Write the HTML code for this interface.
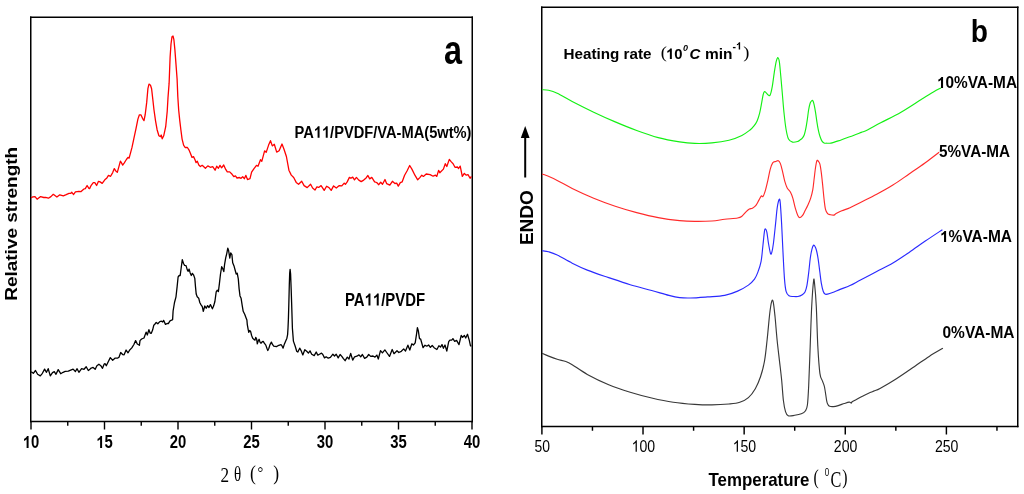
<!DOCTYPE html><html><head><meta charset="utf-8"><style>html,body{margin:0;padding:0;background:#fff;width:1024px;height:494px;overflow:hidden}svg{display:block;will-change:transform}</style></head><body>
<svg width="1024" height="494" viewBox="0 0 1024 494" font-family="Liberation Sans, sans-serif">
<path d="M30.75 16.5 V422.18" stroke="#000" stroke-width="1.5"/><path d="M472.25 16.5 V422.18" stroke="#000" stroke-width="1.5"/><path d="M30 17.25 H473" stroke="#000" stroke-width="1.5"/><path d="M30 421.5 H473" stroke="#000" stroke-width="1.35"/>
<path d="M31 421.5 V429.6 M104.5 421.5 V429.6 M178 421.5 V429.6 M251.5 421.5 V429.6 M325 421.5 V429.6 M398.5 421.5 V429.6 M472 421.5 V429.6 M67.75 421.5 V425.7 M141.25 421.5 V425.7 M214.75 421.5 V425.7 M288.25 421.5 V425.7 M361.75 421.5 V425.7 M435.25 421.5 V425.7" stroke="#000" stroke-width="1.4" fill="none"/>
<path d="M31.1 198 L32.8 196.8 L35 196.6 L37.1 199.2 L40.6 196.6 L43.8 197.5 L45.6 197.3 L48.4 198.2 L50.9 196.6 L53.3 194.3 L56.9 197 L59.8 194.8 L63.3 195.9 L66.2 194.7 L69 193.4 L70.8 193.3 L71.8 192.3 L73.6 194.5 L75.4 191.8 L78.9 191.3 L81.1 191.6 L83.9 189 L85.3 188.6 L87.1 185.5 L88.9 188.3 L89.6 188.6 L91.2 185.3 L93.3 182.6 L94.8 182.6 L96.6 185.5 L98.5 181.3 L100.1 181.9 L102.2 183.4 L104.8 179.8 L106.9 177.9 L108.5 175.3 L110.6 176.3 L112.7 172.6 L114.3 168.6 L115.6 170.7 L117.3 172.4 L118.7 167.4 L120.4 161.1 L121.5 162.9 L122.7 165.1 L124.3 162.9 L126.4 159.5 L128 157.4 L129.1 158.1 L130.6 152.6 L132 147.4 L133.8 138.8 L136.1 128.2 L137.9 119.1 L139.4 114.8 L140.9 114.8 L142.5 118.3 L144 120.6 L145.2 114.5 L146.7 102.4 L147.9 88.7 L149 84.1 L150.5 85.3 L151.6 88.7 L152.8 99.3 L154 110 L155.5 120.6 L157.1 129.7 L158.9 135.8 L160.4 136.6 L161.2 135 L162.2 138.8 L163.7 135.8 L165.7 126.7 L167.2 111.5 L168 97.8 L169.1 83.4 L170.1 57.2 L171 44 L172 36.7 L173 36 L173.9 39.7 L174.9 49.9 L176 64.4 L177.1 79 L177.8 96.5 L178.7 110.2 L179.8 120.9 L180.9 130 L182.1 139.1 L183.6 145.2 L185.1 147.5 L187.4 147.5 L188.9 149.8 L190.5 153.6 L192 157.4 L193.5 156.6 L195 159.7 L196.1 162.7 L197.3 161.2 L198.8 165 L200.4 166.5 L202.2 165.3 L205.4 168.3 L207.8 165.9 L210.3 167.3 L212.7 166.7 L215.1 170.2 L216.7 166.2 L218.4 168.3 L220 165.4 L221.6 167.8 L223.7 165 L225.7 169.4 L227.3 171.9 L229.7 171.9 L232.1 174.3 L233.8 176.7 L235.4 175.9 L237 178 L239.4 177.5 L241 178.3 L242.7 176.7 L244.3 178.7 L245.9 175.4 L247.5 179.6 L250 178.7 L251.6 172.2 L254 168.6 L256.5 165.4 L258 166.2 L260.5 159.7 L261.8 161.3 L264.6 150.8 L266.2 152.4 L268.6 145.1 L270.5 140.7 L272.3 145.9 L274.3 144.3 L276.7 152.1 L279.1 150.8 L282 144 L284 149.2 L286.4 156.5 L288.9 170.2 L291.3 175.1 L293.7 177.5 L296.2 182.4 L298.6 184.3 L301.7 181.3 L304.1 185.6 L307.2 187.6 L310.6 184.3 L312.6 188 L315 190 L316.9 186.8 L318.7 187.4 L321.1 185.6 L324.2 190.4 L326.6 186.2 L329 187.6 L331.2 190.4 L333.6 185.9 L336.3 188 L339.3 185.6 L341.8 185.9 L344.2 183.1 L345.4 184.3 L347.2 181.9 L349.4 177.4 L350.9 178.3 L352.7 177.1 L354.5 179.9 L356.4 177.4 L358.8 180.1 L361.2 181.6 L363.7 180.1 L366.1 177.9 L367.9 175.5 L369.7 178.9 L371.8 177.4 L374.6 181.9 L376.7 182.5 L378.6 184.7 L380.7 182.3 L382.5 184.3 L385 179.5 L386.7 183.7 L389.8 185.2 L392.4 181.3 L394.9 183.5 L396.7 183.1 L398.3 186.1 L400.3 182.7 L402.1 181.9 L404.6 175.2 L407 171 L409.7 165.5 L411.9 169.1 L414.9 175.2 L417.7 179.8 L419.8 177.6 L421.8 175.2 L423.4 176.4 L426.2 174 L430.1 174.6 L433.1 176.2 L435.5 175.2 L436.8 176.4 L438.6 170.4 L439.8 172.8 L443.4 169.1 L445.3 163.7 L446.8 166.5 L449.3 159.4 L451.3 161.9 L453.1 163.7 L455 167.3 L457.4 167 L458.6 168.5 L460.2 166.1 L462.3 176.4 L464.3 173.4 L466.3 175.2 L468 174.6 L470.1 178.3 L471.4 176.4" stroke="#ff0000" stroke-width="1.3" fill="none" stroke-linejoin="round"/>
<path d="M31.2 371.7 L33.3 373.3 L35.5 370.5 L37.6 374.3 L40.3 375.9 L42.4 373.3 L44.6 369.1 L46.5 372.3 L48.2 368.7 L50.3 375.9 L52.5 372.6 L54.3 371.7 L56 374.3 L58.2 369.6 L60.7 373.7 L63.1 372.3 L65.2 371.4 L68.3 371.1 L70.1 370.3 L73.1 369.1 L75.4 371.5 L77.1 368.7 L78.9 372.3 L81.6 368.7 L84 369.3 L86.2 366.8 L88.3 370.5 L90 369.2 L90.6 368.3 L93.1 367.4 L95.2 369.3 L96.9 365.7 L98.9 364.2 L100.8 365.7 L102.5 368.3 L104.2 364 L105 363.6 L106.3 365.7 L108 362.3 L110.3 357.6 L112.7 360.2 L115.2 358.1 L117.8 358.1 L119 357.2 L120.7 352.5 L122.9 354.7 L124.1 354.8 L126.1 350 L128 352.8 L129.7 350 L131.8 347.9 L133.9 344.5 L135.6 340.6 L137.3 344 L139.4 345.3 L140 340.6 L141.6 339 L144 338 L146.1 332.1 L147.3 335 L148.9 329.7 L150.1 333 L151.3 333.3 L152.6 330.1 L153.8 325.2 L155 324 L156.2 322.4 L157.8 323.8 L159.8 321.6 L161.5 321.2 L162.7 322 L163.6 320.4 L165.5 324.4 L167.1 323.5 L168.3 323.6 L170 320.8 L171.6 320.2 L172.6 319.6 L173.1 311 L174.5 302.5 L176 296.8 L177.1 286.9 L178.1 277 L179.2 275.5 L180.2 275.5 L181.3 267 L182.3 259.6 L183.5 263.5 L184.6 265.3 L186 265.6 L187.3 269.9 L188.2 271.3 L189.1 269.1 L190.1 272.7 L191.3 275.5 L192.4 273.4 L193.5 274.8 L194.8 278.4 L195.5 286.9 L196.2 294 L197.2 296.8 L198.7 298.2 L199.8 302.5 L200.9 304.6 L202.3 306.7 L203.3 311.3 L204.8 306 L206.2 308.2 L207.6 305.6 L209 307.5 L210.4 304.6 L211.3 306.4 L212.4 308.8 L213.6 306.1 L214.9 301.5 L216.2 291.8 L217.3 290.2 L218.4 291.5 L219.4 283.7 L220.5 274 L221.7 266.7 L222.6 268.3 L223.8 271.6 L224.6 264.3 L225.7 257.8 L226.7 253.8 L227.8 248.1 L228.6 250.5 L229.8 258.1 L230.7 253 L231.9 254.6 L232.7 262.7 L234 265.9 L235.1 270 L236.2 274 L237.2 273.2 L238.3 278.9 L239.1 288.6 L240 295.9 L241.1 298.3 L242.1 304.8 L243.2 311.3 L244.8 314.5 L246 317.7 L246.9 320 L247.3 324.6 L248.2 329.6 L248.8 332.3 L249.7 330.5 L250.6 331.4 L251.6 335.5 L252.7 338.2 L254.1 339.6 L255 340.1 L255.7 337.3 L256.7 339.3 L257.3 343.9 L258.2 341 L259.1 339.3 L260 342.1 L260.9 343.2 L262.3 341.7 L263.2 341.4 L264.3 343.2 L265.8 345.1 L266.9 348.3 L267.8 350.5 L268.9 348.3 L270 344.6 L271.4 342.1 L272.3 344.2 L273.7 346.2 L275.1 346.4 L276.4 346.6 L278 345.7 L279.6 345.1 L281 344.6 L281.9 345.7 L283.1 348.1 L284.2 344.6 L285.5 341.4 L286.9 338.2 L287.6 334.6 L288 328.2 L288.4 319.1 L288.8 305 L289.3 285 L289.7 273 L290.1 269.3 L290.6 274 L291.2 290 L291.6 302 L292.4 328.2 L293.4 341.1 L295.2 346.2 L296.7 351.2 L297.8 352 L299.7 348.2 L301.1 350.6 L302.8 354.9 L304.8 349.7 L306.7 351.2 L308.4 353.1 L310 350.9 L311.7 354.2 L314.2 355.6 L316.2 352 L317.8 355.1 L319.5 354.2 L321.5 353.1 L322.8 354.5 L324.5 357.9 L326.2 356.8 L328.2 358.2 L330.4 357.3 L332.9 354.2 L334.5 356 L336.2 354.2 L338.2 357.9 L340.1 354.5 L341.8 356.4 L343.4 358.7 L345.1 360.7 L347.3 357.1 L349 359 L350.7 353.4 L352.7 360.1 L354.6 356.8 L356.8 356.2 L359 354.9 L360.7 356.8 L362.4 354.5 L364.6 358.4 L366.8 357.1 L368.7 354.5 L370.7 356.4 L373 356 L375 357.1 L376.8 355.1 L378.3 359 L380.5 350.6 L382.4 352.9 L384.9 349.9 L386.7 352.5 L389.5 356.4 L392.2 349.5 L394 353.7 L397 350.7 L398.8 352.5 L401.3 351.3 L403.7 348.9 L405.5 351.1 L407.9 345.2 L409.8 350.1 L411.8 343.8 L413.4 345 L415.2 342.8 L416.5 334.3 L417.4 327.6 L418.3 330.7 L419.5 338.6 L420.7 339.2 L423.1 347.7 L425 345.2 L426.8 346.2 L428.6 345 L430.4 347.4 L432.2 345.5 L434.1 347.7 L436.9 349.5 L438.9 345.8 L440.5 347.1 L442 344.6 L443.4 348.3 L445 345 L446.8 351.1 L448.7 341.6 L449.9 340.1 L451.7 340.1 L452.9 338.6 L454.7 341.3 L456.6 340.4 L459 344.6 L461.2 335.5 L462.6 337.3 L464.4 335.5 L465.7 338 L467.5 334.3 L469.3 340.4 L470.5 345.8 L471.4 345.8" stroke="#000" stroke-width="1.3" fill="none" stroke-linejoin="round"/>
<path d="M541.75 6.5 V427.18" stroke="#000" stroke-width="1.5"/><path d="M1017.75 6.5 V427.18" stroke="#000" stroke-width="1.5"/><path d="M541 7.25 H1018.5" stroke="#000" stroke-width="1.5"/><path d="M541 426.5 H1018.5" stroke="#000" stroke-width="1.35"/>
<path d="M541.9 426.5 V434.6 M643.02 426.5 V434.6 M744.15 426.5 V434.6 M845.27 426.5 V434.6 M946.4 426.5 V434.6 M592.46 426.5 V430.8 M693.59 426.5 V430.8 M794.71 426.5 V430.8 M895.84 426.5 V430.8 M996.96 426.5 V430.8" stroke="#000" stroke-width="1.45" fill="none"/>
<path d="M542.1 89.7 C543.18 89.8 546.08 89.7 548.6 90.3 C551.12 90.9 553.27 91.43 557.2 93.3 C561.13 95.17 566.12 98.35 572.2 101.5 C578.28 104.65 586.53 108.8 593.7 112.2 C600.87 115.6 608.03 118.85 615.2 121.9 C622.37 124.95 629.53 127.88 636.7 130.5 C643.87 133.12 651.05 135.7 658.2 137.6 C665.35 139.5 673.52 140.93 679.6 141.9 C685.68 142.87 689.32 143.23 694.7 143.4 C700.08 143.57 706.18 143.43 711.9 142.9 C717.62 142.37 724 141.45 729 140.2 C734 138.95 738.4 137.1 741.9 135.4 C745.4 133.7 747.98 131.58 750 130 C752.02 128.42 752.82 127.42 754 125.9 C755.18 124.38 756.15 123.08 757.1 120.9 C758.05 118.72 758.93 115.85 759.7 112.8 C760.47 109.75 761.12 105.65 761.7 102.6 C762.28 99.55 762.72 96.35 763.2 94.5 C763.68 92.65 764.1 91.77 764.6 91.5 C765.1 91.23 765.6 92.33 766.2 92.9 C766.8 93.47 767.53 94.57 768.2 94.9 C768.87 95.23 769.52 96.32 770.2 94.9 C770.88 93.48 771.62 90.17 772.3 86.4 C772.98 82.63 773.63 76.52 774.3 72.3 C774.97 68.08 775.68 63.53 776.3 61.1 C776.92 58.67 777.48 57.53 778 57.7 C778.52 57.87 778.93 59 779.4 62.1 C779.87 65.2 780.3 70.9 780.8 76.3 C781.3 81.7 781.87 88.42 782.4 94.5 C782.93 100.58 783.4 107.05 784 112.8 C784.6 118.55 785.25 124.62 786 129 C786.75 133.38 787.42 136.92 788.5 139.1 C789.58 141.28 790.98 141.7 792.5 142.1 C794.02 142.5 796.35 141.85 797.6 141.5 C798.85 141.15 799.25 140.52 800 140 C800.75 139.48 801.38 139.28 802.1 138.4 C802.82 137.52 803.67 136.4 804.3 134.7 C804.93 133 805.4 130.7 805.9 128.2 C806.4 125.7 806.85 122.73 807.3 119.7 C807.75 116.67 808.12 112.78 808.6 110 C809.08 107.22 809.67 104.57 810.2 103 C810.73 101.43 811.35 100.95 811.8 100.6 C812.25 100.25 812.52 100.23 812.9 100.9 C813.28 101.57 813.67 102.73 814.1 104.6 C814.53 106.47 815.03 109.23 815.5 112.1 C815.97 114.97 816.42 118.75 816.9 121.8 C817.38 124.85 817.87 127.9 818.4 130.4 C818.93 132.9 819.5 135.02 820.1 136.8 C820.7 138.58 821.33 140.07 822 141.1 C822.67 142.13 823.3 142.65 824.1 143 C824.9 143.35 825.67 143.18 826.8 143.2 C827.93 143.22 829 143.48 830.9 143.1 C832.8 142.72 835.77 141.72 838.2 140.9 C840.63 140.08 842.97 139.1 845.5 138.2 C848.03 137.3 850.77 136.47 853.4 135.5 C856.03 134.53 858.97 133.32 861.3 132.4 C863.63 131.48 864.17 131.6 867.4 130 C870.63 128.4 875.1 125.77 880.7 122.8 C886.3 119.83 894.25 116.08 901 112.2 C907.75 108.32 915.8 102.87 921.2 99.5 C926.6 96.13 930.1 93.93 933.4 92 C936.7 90.07 939.73 88.58 941 87.9" stroke="#14f014" stroke-width="1.15" fill="none" stroke-linejoin="round"/>
<path d="M542.1 174 C542.82 174.25 543.88 174.43 546.4 175.5 C548.92 176.57 552.9 178.25 557.2 180.4 C561.5 182.55 566.12 185.43 572.2 188.4 C578.28 191.37 586.53 195.23 593.7 198.2 C600.87 201.17 608.03 203.8 615.2 206.2 C622.37 208.6 629.53 210.7 636.7 212.6 C643.87 214.5 651.05 216.27 658.2 217.6 C665.35 218.93 673.52 219.97 679.6 220.6 C685.68 221.23 689.32 221.33 694.7 221.4 C700.08 221.47 706.9 221.35 711.9 221 C716.9 220.65 720.42 219.8 724.7 219.3 C728.98 218.8 734.73 218.5 737.6 218 C740.47 217.5 740.47 217.37 741.9 216.3 C743.33 215.23 744.95 212.82 746.2 211.6 C747.45 210.38 748.37 209.57 749.4 209 C750.43 208.43 751.35 208.75 752.4 208.2 C753.45 207.65 754.62 207.05 755.7 205.7 C756.78 204.35 757.97 201.72 758.9 200.1 C759.83 198.48 760.62 196.6 761.3 196 C761.98 195.4 762.32 197.45 763 196.5 C763.68 195.55 764.6 192.95 765.4 190.3 C766.2 187.65 767 184.1 767.8 180.6 C768.6 177.1 769.38 172.27 770.2 169.3 C771.02 166.33 771.75 164.1 772.7 162.8 C773.65 161.5 774.97 161.85 775.9 161.5 C776.83 161.15 777.55 160.35 778.3 160.7 C779.05 161.05 779.72 161.9 780.4 163.6 C781.08 165.3 781.67 167.93 782.4 170.9 C783.13 173.87 784 178.57 784.8 181.4 C785.6 184.23 786.25 186.08 787.2 187.9 C788.15 189.72 789.55 190.55 790.5 192.3 C791.45 194.05 792.1 195.75 792.9 198.4 C793.7 201.05 794.48 205.37 795.3 208.2 C796.12 211.03 797.03 213.83 797.8 215.4 C798.57 216.97 799.1 217.6 799.9 217.6 C800.7 217.6 801.75 216.53 802.6 215.4 C803.45 214.27 804.13 212.5 805 210.8 C805.87 209.1 806.85 207.32 807.8 205.2 C808.75 203.08 809.87 200.7 810.7 198.1 C811.53 195.5 812.22 192.9 812.8 189.6 C813.38 186.3 813.73 182.07 814.2 178.3 C814.67 174.53 815.13 169.95 815.6 167 C816.07 164.05 816.53 161.55 817 160.6 C817.47 159.65 817.92 160.72 818.4 161.3 C818.88 161.88 819.42 162.22 819.9 164.1 C820.38 165.98 820.83 169.05 821.3 172.6 C821.77 176.15 822.23 180.92 822.7 185.4 C823.17 189.88 823.63 195.5 824.1 199.5 C824.57 203.5 824.92 207.05 825.5 209.4 C826.08 211.75 826.77 212.7 827.6 213.6 C828.43 214.5 829.43 214.55 830.5 214.8 C831.57 215.05 833.07 215.3 834 215.1 C834.93 214.9 834.8 214.32 836.1 213.6 C837.4 212.88 839.48 211.78 841.8 210.8 C844.12 209.82 846.88 209.1 850 207.7 C853.12 206.3 856.05 204.63 860.5 202.4 C864.95 200.17 871.3 197.18 876.7 194.3 C882.1 191.42 887.5 188.48 892.9 185.1 C898.3 181.72 903.7 177.73 909.1 174 C914.5 170.27 920.3 166.33 925.3 162.7 C930.3 159.07 936.8 153.95 939.1 152.2" stroke="#ff2a2a" stroke-width="1.15" fill="none" stroke-linejoin="round"/>
<path d="M542.1 250.7 C543.18 250.88 546.08 251.08 548.6 251.8 C551.12 252.52 553.27 253.1 557.2 255 C561.13 256.9 567.18 260.68 572.2 263.2 C577.22 265.72 581.22 267.7 587.3 270.1 C593.38 272.5 601.55 275.17 608.7 277.6 C615.85 280.03 623.03 282.55 630.2 284.7 C637.37 286.85 645.25 288.72 651.7 290.5 C658.15 292.28 664.25 294.22 668.9 295.4 C673.55 296.58 676.02 297.17 679.6 297.6 C683.18 298.03 685.73 298.12 690.4 298 C695.07 297.88 701.88 297.33 707.6 296.9 C713.32 296.47 719.7 296.37 724.7 295.4 C729.7 294.43 733.65 292.82 737.6 291.1 C741.55 289.38 745.58 287.1 748.4 285.1 C751.22 283.1 752.93 281.22 754.5 279.1 C756.07 276.98 756.7 275.37 757.8 272.4 C758.9 269.43 760.25 265.75 761.1 261.3 C761.95 256.85 762.33 250.72 762.9 245.7 C763.47 240.68 764.05 233.98 764.5 231.2 C764.95 228.42 765.2 228.82 765.6 229 C766 229.18 766.42 229.88 766.9 232.3 C767.38 234.72 767.9 239.97 768.5 243.5 C769.1 247.03 769.95 252.02 770.5 253.5 C771.05 254.98 771.32 254.07 771.8 252.4 C772.28 250.73 772.77 248.33 773.4 243.5 C774.03 238.67 774.97 229.35 775.6 223.4 C776.23 217.45 776.6 211.8 777.2 207.8 C777.8 203.8 778.68 200.13 779.2 199.4 C779.72 198.67 779.9 199.4 780.3 203.4 C780.7 207.4 781.15 215.23 781.6 223.4 C782.05 231.57 782.52 243.12 783 252.4 C783.48 261.68 783.98 272.62 784.5 279.1 C785.02 285.58 785.35 288.52 786.1 291.3 C786.85 294.08 787.78 294.93 789 295.8 C790.22 296.67 791.92 296.38 793.4 296.5 C794.88 296.62 796.42 296.8 797.9 296.5 C799.38 296.2 801.12 295.47 802.3 294.7 C803.48 293.93 804.23 293.42 805 291.9 C805.77 290.38 806.27 288.95 806.9 285.6 C807.53 282.25 808.23 276.4 808.8 271.8 C809.37 267.2 809.78 261.75 810.3 258 C810.82 254.25 811.37 251.42 811.9 249.3 C812.43 247.18 812.98 245.77 813.5 245.3 C814.02 244.83 814.5 245.63 815 246.5 C815.5 247.37 815.97 248.37 816.5 250.5 C817.03 252.63 817.65 255.75 818.2 259.3 C818.75 262.85 819.28 267.83 819.8 271.8 C820.32 275.77 820.73 279.85 821.3 283.1 C821.87 286.35 822.58 289.47 823.2 291.3 C823.82 293.13 824.27 293.63 825 294.1 C825.73 294.57 826.33 294.37 827.6 294.1 C828.87 293.83 830.52 293.28 832.6 292.5 C834.68 291.72 837.2 290.55 840.1 289.4 C843 288.25 846.6 287.17 850 285.6 C853.4 284.03 856.05 282.35 860.5 280 C864.95 277.65 871.3 274.33 876.7 271.5 C882.1 268.67 887.5 266.18 892.9 263 C898.3 259.82 903.7 256.05 909.1 252.4 C914.5 248.75 919.75 244.88 925.3 241.1 C930.85 237.32 939.55 231.6 942.4 229.7" stroke="#2a2aff" stroke-width="1.15" fill="none" stroke-linejoin="round"/>
<path d="M542.1 353.3 C543.18 353.77 546.08 355.1 548.6 356.1 C551.12 357.1 554.33 358.4 557.2 359.3 C560.07 360.2 563.3 360.6 565.8 361.5 C568.3 362.4 568.62 362.55 572.2 364.7 C575.78 366.85 581.22 371.07 587.3 374.4 C593.38 377.73 601.55 381.73 608.7 384.7 C615.85 387.67 623.03 389.98 630.2 392.2 C637.37 394.42 644.53 396.32 651.7 398 C658.87 399.68 666.03 401.23 673.2 402.3 C680.37 403.37 688.25 403.97 694.7 404.4 C701.15 404.83 706.18 404.97 711.9 404.9 C717.62 404.83 724.35 404.43 729 404 C733.65 403.57 736.57 403.37 739.8 402.3 C743.03 401.23 745.82 399.87 748.4 397.6 C750.98 395.33 753.28 392.17 755.3 388.7 C757.32 385.23 758.97 381.4 760.5 376.8 C762.03 372.2 763.4 367.23 764.5 361.1 C765.6 354.97 766.23 347.9 767.1 340 C767.97 332.1 768.95 320.07 769.7 313.7 C770.45 307.33 771.02 303.78 771.6 301.8 C772.18 299.82 772.63 299.38 773.2 301.8 C773.77 304.22 774.35 309.93 775 316.3 C775.65 322.67 776.35 332.53 777.1 340 C777.85 347.47 778.75 354.52 779.5 361.1 C780.25 367.68 780.95 372.93 781.6 379.5 C782.25 386.07 782.75 395.15 783.4 400.5 C784.05 405.85 784.7 409.05 785.5 411.6 C786.3 414.15 786.67 415.18 788.2 415.8 C789.73 416.42 792.52 415.63 794.7 415.3 C796.88 414.97 799.53 414.52 801.3 413.8 C803.07 413.08 804.28 412.47 805.3 411 C806.32 409.53 806.83 409.25 807.4 405 C807.97 400.75 808.23 395.33 808.7 385.5 C809.17 375.67 809.7 359.17 810.2 346 C810.7 332.83 811.13 317.37 811.7 306.5 C812.27 295.63 813.12 284.55 813.6 280.8 C814.08 277.05 814.15 279.72 814.6 284 C815.05 288.28 815.77 296.17 816.3 306.5 C816.83 316.83 817.2 334.87 817.8 346 C818.4 357.13 819.13 367.48 819.9 373.3 C820.67 379.12 821.63 378.62 822.4 380.9 C823.17 383.18 823.78 383.68 824.5 387 C825.22 390.32 826.13 397.9 826.7 400.8 C827.27 403.7 827.4 403.48 827.9 404.4 C828.4 405.32 828.78 405.93 829.7 406.3 C830.62 406.67 831.98 406.72 833.4 406.6 C834.82 406.48 836.38 406.12 838.2 405.6 C840.02 405.08 842.48 404.08 844.3 403.5 C846.12 402.92 848.08 402.25 849.1 402.1 C850.12 401.95 850.03 402.43 850.4 402.6 C850.77 402.77 851 403.25 851.3 403.1 C851.6 402.95 851.35 402.3 852.2 401.7 C853.05 401.1 854.68 400.42 856.4 399.5 C858.12 398.58 860.47 397.25 862.5 396.2 C864.53 395.15 866.58 394.1 868.6 393.2 C870.62 392.3 872.7 391.58 874.6 390.8 C876.5 390.02 876.37 390.52 880 388.5 C883.63 386.48 890.63 382.38 896.4 378.7 C902.17 375.02 909.13 370.12 914.6 366.4 C920.07 362.68 924.48 359.43 929.2 356.4 C933.92 353.37 940.62 349.57 942.9 348.2" stroke="#383838" stroke-width="1.15" fill="none" stroke-linejoin="round"/>
<path d="M525.2 177.5 V136" stroke="#000" stroke-width="2"/><path d="M525.2 126 L529.6 138 L520.8 138 Z" fill="#000"/>
<text x="31" y="448" font-size="17.5" font-weight="bold" textLength="16.5" lengthAdjust="spacingAndGlyphs" text-anchor="middle" id="o0"> 0</text>
<text x="104.5" y="448" font-size="17.5" font-weight="bold" textLength="16.5" lengthAdjust="spacingAndGlyphs" text-anchor="middle" id="o1"> 5</text>
<text x="178" y="448" font-size="17.5" font-weight="bold" textLength="16.5" lengthAdjust="spacingAndGlyphs" text-anchor="middle">20</text>
<text x="251.5" y="448" font-size="17.5" font-weight="bold" textLength="16.5" lengthAdjust="spacingAndGlyphs" text-anchor="middle">25</text>
<text x="325" y="448" font-size="17.5" font-weight="bold" textLength="16.5" lengthAdjust="spacingAndGlyphs" text-anchor="middle">30</text>
<text x="398.5" y="448" font-size="17.5" font-weight="bold" textLength="16.5" lengthAdjust="spacingAndGlyphs" text-anchor="middle">35</text>
<text x="472" y="448" font-size="17.5" font-weight="bold" textLength="16.5" lengthAdjust="spacingAndGlyphs" text-anchor="middle">40</text>
<text x="542.2" y="451.7" font-size="16.5" textLength="15.5" lengthAdjust="spacingAndGlyphs" text-anchor="middle">50</text>
<text x="643.33" y="451.7" font-size="16.5" textLength="23.5" lengthAdjust="spacingAndGlyphs" text-anchor="middle" id="o2"> 00</text>
<text x="744.45" y="451.7" font-size="16.5" textLength="23.5" lengthAdjust="spacingAndGlyphs" text-anchor="middle" id="o3"> 50</text>
<text x="845.58" y="451.7" font-size="16.5" textLength="23.5" lengthAdjust="spacingAndGlyphs" text-anchor="middle">200</text>
<text x="946.7" y="451.7" font-size="16.5" textLength="23.5" lengthAdjust="spacingAndGlyphs" text-anchor="middle">250</text>
<text x="444" y="64" font-size="41" font-weight="bold" textLength="18" lengthAdjust="spacingAndGlyphs" text-anchor="start">a</text>
<text x="970.8" y="42.2" font-size="30.6" font-weight="bold" textLength="17.2" lengthAdjust="spacingAndGlyphs" text-anchor="start">b</text>
<text x="294.5" y="137.8" font-size="16.8" font-weight="bold" textLength="177" lengthAdjust="spacingAndGlyphs" text-anchor="start" id="o4">PA  /PVDF/VA-MA(5wt%)</text>
<text x="345" y="305.5" font-size="17.5" font-weight="bold" textLength="80" lengthAdjust="spacingAndGlyphs" text-anchor="start" id="o5">PA  /PVDF</text>
<text transform="translate(16.5,300.8) rotate(-90)" font-size="17" font-weight="bold" textLength="154" lengthAdjust="spacingAndGlyphs">Relative strength</text>
<text transform="translate(532.7,245.1) rotate(-90)" font-size="19" font-weight="bold" textLength="55" lengthAdjust="spacingAndGlyphs">ENDO</text>
<text x="937" y="88" font-size="16" font-weight="bold" textLength="80" lengthAdjust="spacingAndGlyphs" text-anchor="start" id="o6"> 0%VA-MA</text>
<text x="939" y="157" font-size="16" font-weight="bold" textLength="71" lengthAdjust="spacingAndGlyphs" text-anchor="start">5%VA-MA</text>
<text x="940" y="242" font-size="16" font-weight="bold" textLength="72" lengthAdjust="spacingAndGlyphs" text-anchor="start" id="o7"> %VA-MA</text>
<text x="942.5" y="338.2" font-size="16" font-weight="bold" textLength="72" lengthAdjust="spacingAndGlyphs" text-anchor="start">0%VA-MA</text>
<text x="708.5" y="486" font-size="18.5" font-weight="bold" textLength="101" lengthAdjust="spacingAndGlyphs" text-anchor="start">Temperature</text>
<text x="563.5" y="58.9" font-size="15" font-weight="bold" textLength="88" lengthAdjust="spacingAndGlyphs" text-anchor="start">Heating rate</text>
<text x="0" y="0" font-size="17.5" transform="translate(660.8,57.6) scale(1.05,1)" font-family='"Liberation Serif",serif'>(</text>
<text x="666" y="58.9" font-size="15" font-weight="bold" textLength="16.5" lengthAdjust="spacingAndGlyphs" text-anchor="start" id="o8"> 0</text>
<text x="683" y="50.5" font-size="9" font-weight="bold" font-style="italic">0</text>
<text x="689.5" y="58.9" font-size="15" font-weight="bold" font-style="italic">C</text>
<text x="705" y="58.9" font-size="15" font-weight="bold" textLength="27.5" lengthAdjust="spacingAndGlyphs" text-anchor="start">min</text>
<text x="732.5" y="49.6" font-size="10.5" font-weight="bold" text-anchor="start" id="o9">- </text>
<text x="0" y="0" font-size="17.5" transform="translate(743.2,57.6) scale(1.05,1)" font-family='"Liberation Serif",serif'>)</text>
<text x="0" y="0" font-size="21" transform="translate(813.5,483.5) scale(0.75,1)" font-family='"Liberation Serif",serif'>(</text>
<text x="0" y="0" font-size="10" transform="translate(824.8,475.5) scale(0.8,1)">0</text>
<text x="0" y="0" font-size="22.5" transform="translate(830.5,486.5) scale(0.72,1)" font-family='"Liberation Serif",serif'>C</text>
<text x="0" y="0" font-size="21" transform="translate(842.3,483.5) scale(0.75,1)" font-family='"Liberation Serif",serif'>)</text>
<text x="0" y="0" font-size="21.5" transform="translate(220.5,482.3) scale(0.8,1)" font-family='"Liberation Serif",serif'>2</text>
<text x="0" y="0" font-size="20" transform="translate(234,480.5) scale(0.75,1)" font-family='"Liberation Serif",serif'>θ</text>
<text x="0" y="0" font-size="22" transform="translate(250,479.9) scale(0.8,1)" font-family='"Liberation Serif",serif'>(</text>
<text x="0" y="0" font-size="16" transform="translate(257.5,478.2) scale(0.9,1)" font-family='"Liberation Serif",serif'>°</text>
<text x="0" y="0" font-size="22" transform="translate(273.2,479.9) scale(0.8,1)" font-family='"Liberation Serif",serif'>)</text>
<g fill="#000"><path transform="matrix(0.00724 0 0 -0.00854 22.75 448.00)" d="M807 0H533V1032Q383 892 179 825V1073Q286 1108 412 1206Q538 1304 585 1409H807Z"/><path transform="matrix(0.00724 0 0 -0.00854 96.25 448.00)" d="M807 0H533V1032Q383 892 179 825V1073Q286 1108 412 1206Q538 1304 585 1409H807Z"/><path transform="matrix(0.00689 0 0 -0.00806 631.58 451.70)" d="M763 0H583V1102Q518 1042 412 982Q307 922 223 892V1060Q374 1128 487 1225Q600 1322 647 1409H763Z"/><path transform="matrix(0.00689 0 0 -0.00806 732.70 451.70)" d="M763 0H583V1102Q518 1042 412 982Q307 922 223 892V1060Q374 1128 487 1225Q600 1322 647 1409H763Z"/><path transform="matrix(0.00717 0 0 -0.00820 313.77 137.80)" d="M807 0H533V1032Q383 892 179 825V1073Q286 1108 412 1206Q538 1304 585 1409H807Z"/><path transform="matrix(0.00717 0 0 -0.00820 321.92 137.80)" d="M807 0H533V1032Q383 892 179 825V1073Q286 1108 412 1206Q538 1304 585 1409H807Z"/><path transform="matrix(0.00728 0 0 -0.00854 364.57 305.50)" d="M807 0H533V1032Q383 892 179 825V1073Q286 1108 412 1206Q538 1304 585 1409H807Z"/><path transform="matrix(0.00728 0 0 -0.00854 372.85 305.50)" d="M807 0H533V1032Q383 892 179 825V1073Q286 1108 412 1206Q538 1304 585 1409H807Z"/><path transform="matrix(0.00751 0 0 -0.00781 937.00 88.00)" d="M807 0H533V1032Q383 892 179 825V1073Q286 1108 412 1206Q538 1304 585 1409H807Z"/><path transform="matrix(0.00757 0 0 -0.00781 940.00 242.00)" d="M807 0H533V1032Q383 892 179 825V1073Q286 1108 412 1206Q538 1304 585 1409H807Z"/><path transform="matrix(0.00724 0 0 -0.00732 666.00 58.90)" d="M807 0H533V1032Q383 892 179 825V1073Q286 1108 412 1206Q538 1304 585 1409H807Z"/><path transform="matrix(0.00514 0 0 -0.00513 735.98 49.60)" d="M807 0H533V1032Q383 892 179 825V1073Q286 1108 412 1206Q538 1304 585 1409H807Z"/></g>
</svg></body></html>
